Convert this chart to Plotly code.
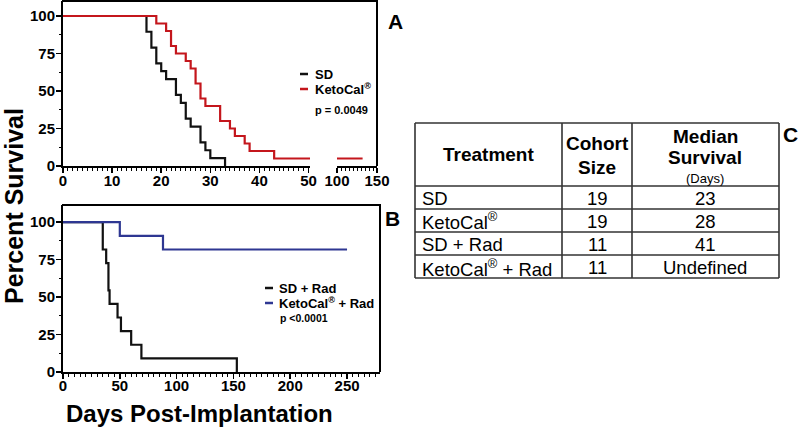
import plotly.graph_objects as go

# ---------------- data ----------------
sd_days = [17, 18, 19, 20, 21, 23, 24, 25, 26, 28, 29, 30, 33]
sd_surv = [89.5, 78.9, 68.4, 63.2, 57.9, 47.4, 42.1, 31.6, 26.3, 15.8, 10.5, 5.3, 0]
keto_days = [19, 21, 22, 23, 25, 26, 27, 28, 29, 32, 34, 35, 37, 38, 43, 132]
keto_surv = [95, 90, 80, 75, 70, 65, 55, 45, 40, 30, 25, 20, 15, 10, 5, 5]

sdrad_days = [35, 38, 40, 41, 48, 51, 60, 69, 153]
sdrad_surv = [81.8, 72.7, 54.5, 45.5, 36.4, 27.3, 18.2, 9.1, 0]
ketorad_days = [50, 88, 250]
ketorad_surv = [90.9, 81.8, 81.8]

top_xticks_1 = [0, 10, 20, 30, 40, 50]
top_xticks_2 = [100, 150]
bottom_xticks = [0, 50, 100, 150, 200, 250]
y_ticks = [0, 25, 50, 75, 100]

table_header = ["Treatment", "Cohort", "Size", "Median", "Survival", "(Days)"]
treatments = ["SD", "KetoCal<sup>®</sup>", "SD + Rad", "KetoCal<sup>®</sup> + Rad"]
cohort_size = ["19", "19", "11", "11"]
median_survival = ["23", "28", "41", "Undefined"]

# ---------------- helpers ----------------
W, H = 800, 433
FONT = "Liberation Sans, Arial, sans-serif"
BLACK = "#111111"
RED = "#c4161c"
BLUE = "#2e3792"


def px(x):
    return x / W


def py(y):
    return 1 - y / H


fig = go.Figure()


def km(days, surv, color, xa, ya):
    fig.add_trace(go.Scatter(
        x=[0] + days, y=[100] + surv, mode="lines", line_shape="hv",
        line=dict(color=color, width=2.2), xaxis=xa, yaxis=ya,
        showlegend=False, hoverinfo="skip"))


# top panel (broken x-axis: two segments)
for xa in ("x", "x2"):
    km(sd_days, sd_surv, BLACK, xa, "y")
    km(keto_days, keto_surv, RED, xa, "y")
# bottom panel
km(sdrad_days, sdrad_surv, BLACK, "x3", "y2")
km(ketorad_days, ketorad_surv, BLUE, "x3", "y2")

tickfont = dict(family=FONT, size=15, color="black", weight="bold")
axis_common = dict(showline=True, linewidth=2, linecolor="black", ticks="outside",
                   ticklen=5, tickwidth=1.5, tickcolor="black", showgrid=False,
                   zeroline=False, tickfont=tickfont, fixedrange=True,
                   automargin=False)
xminor = dict(ticklen=2.5, tickwidth=1, tickcolor="black", ticks="outside")

fig.update_layout(
    template="none",
    width=W, height=H, margin=dict(l=0, r=0, t=0, b=0, pad=0), autosize=False,
    paper_bgcolor="white", plot_bgcolor="white", hovermode=False,
    xaxis=dict(domain=[px(63), px(310)], range=[0, 50.3], anchor="y",
               tickvals=top_xticks_1, ticklabelstandoff=-5,
               minor=dict(dtick=1, **xminor), **axis_common),
    xaxis2=dict(domain=[px(337), px(377)], range=[100, 150], anchor="y",
                tickvals=top_xticks_2, ticklabelstandoff=-5,
                minor=dict(dtick=5, **xminor), **axis_common),
    yaxis=dict(domain=[py(166), py(1)], range=[0, 110], anchor="x",
               tickvals=y_ticks, ticklabelstandoff=-2,
               minor=dict(dtick=12.5, **xminor), **axis_common),
    xaxis3=dict(domain=[px(63), px(380)], range=[0, 279], anchor="y2",
                tickvals=bottom_xticks, ticklabelstandoff=-6,
                minor=dict(dtick=5, **xminor), **axis_common),
    yaxis2=dict(domain=[py(372), py(205)], range=[0, 111.5], anchor="x3",
                tickvals=y_ticks, ticklabelstandoff=-2,
                minor=dict(dtick=12.5, **xminor), **axis_common),
)

shapes = []


def line(x0, y0, x1, y1, color="black", width=2):
    shapes.append(dict(type="line", xref="paper", yref="paper",
                       x0=px(x0), y0=py(y0), x1=px(x1), y1=py(y1),
                       line=dict(color=color, width=width)))


# plot frames (top & right borders)
line(62, 1, 377, 1)
line(377, 0, 377, 166)
line(62, 205, 380, 205)
line(380, 204, 380, 372)

# legend keys
line(300, 74, 308, 74, BLACK, 2.5)
line(300, 89, 308, 89, RED, 2.5)
line(265, 288, 273, 288, BLACK, 2.5)
line(265, 303, 273, 303, BLUE, 2.5)

# table grid
TC = "#333333"
col_x = [415, 562, 632, 779]
row_y = [123, 186, 209, 232, 255, 278]
for xv in col_x:
    line(xv, row_y[0], xv, row_y[-1], TC, 1.6)
for yv in row_y:
    line(col_x[0], yv, col_x[-1], yv, TC, 1.6)

annotations = []


def text(x, y, s, size, bold=True, xanchor="center", color="black", angle=0):
    annotations.append(dict(
        x=px(x), y=py(y), xref="paper", yref="paper", text=s, showarrow=False,
        xanchor=xanchor, yanchor="middle", textangle=angle,
        font=dict(family=FONT, size=size, color=color,
                  weight="bold" if bold else "normal")))


# legends
text(313, 74, "SD", 13, xanchor="left")
text(313, 89, "KetoCal<sup>®</sup>", 13, xanchor="left")
text(313, 110, "p = 0.0049", 11, xanchor="left")
text(277, 288, "SD + Rad", 13, xanchor="left")
text(277, 303, "KetoCal<sup>®</sup> + Rad", 13, xanchor="left")
text(278, 318, "p <0.0001", 10.5, xanchor="left")

# panel letters
text(395, 22, "A", 21)
text(392, 218, "B", 21)
text(790, 135, "C", 21)

# axis titles
text(14, 206, "Percent Survival", 25, angle=-90)
text(199, 413, "Days Post-Implantation", 24)

# table header
text(488, 155, table_header[0], 19)
text(597, 143, table_header[1], 19)
text(597, 167, table_header[2], 19)
text(705, 136, table_header[3], 19)
text(705, 157, table_header[4], 19)
text(705, 178, table_header[5], 13, bold=False)

# table body
for i in range(len(treatments)):
    yc = (row_y[i + 1] + row_y[i + 2]) / 2 + 1
    text(420, yc, treatments[i], 18.5, bold=False, xanchor="left")
    text(597, yc, cohort_size[i], 18.5, bold=False)
    text(705, yc, median_survival[i], 18.5, bold=False)

fig.update_layout(shapes=shapes, annotations=annotations)
fig.write_html(
    "out.html",
    config={"displayModeBar": False, "staticPlot": True},
    post_script="document.body.style.margin='0';document.body.style.overflow='hidden';",
)
